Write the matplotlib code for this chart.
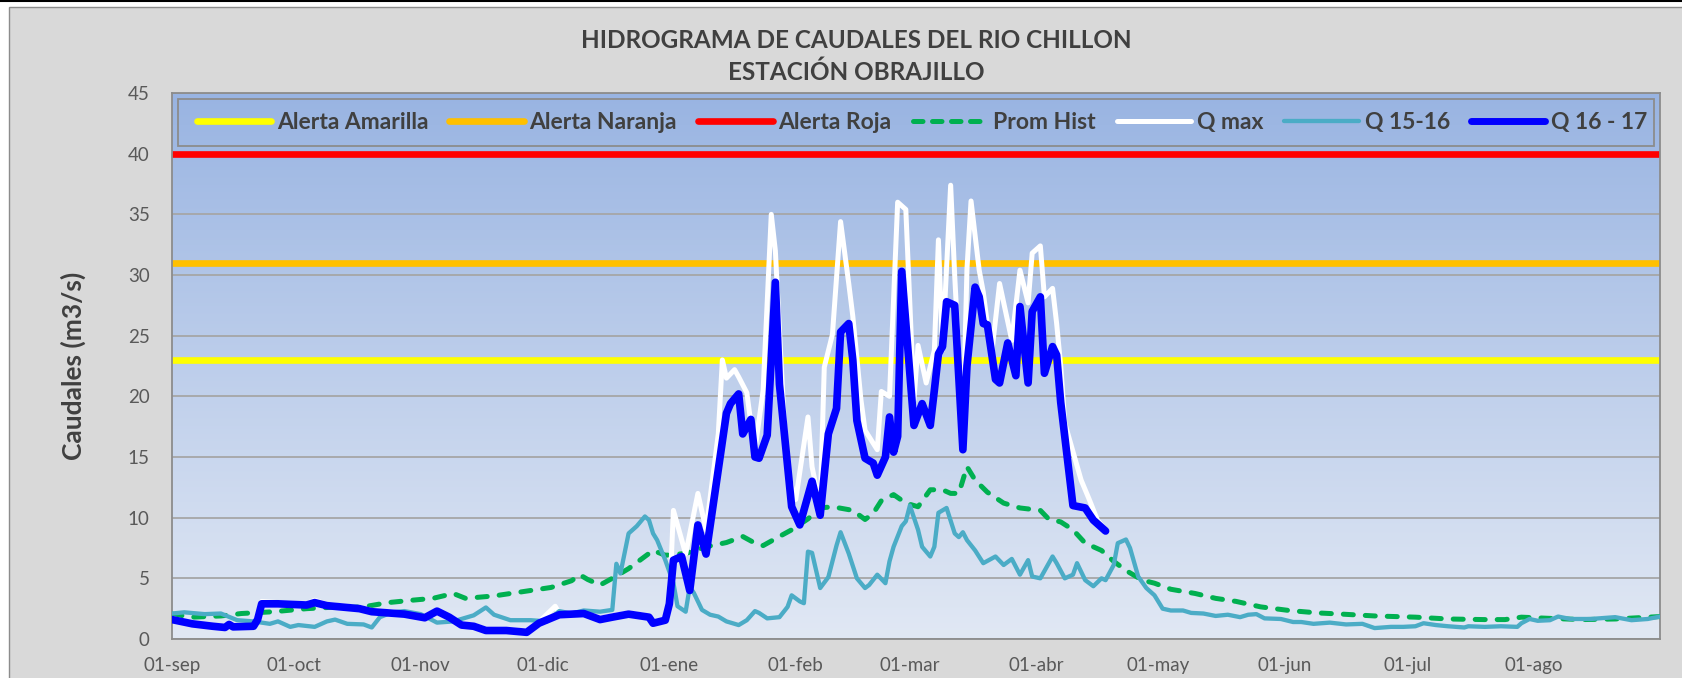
import numpy as np
import matplotlib

matplotlib.use("Agg")
import matplotlib.pyplot as plt
from matplotlib.colors import LinearSegmentedColormap
from matplotlib.lines import Line2D
from matplotlib.patches import Rectangle

plt.rcParams["font.family"] = ["Lato", "DejaVu Sans"]

# --- datos (dia desde 01-sep, caudal m3/s) ---
meses = ["01-sep", "01-oct", "01-nov", "01-dic", "01-ene", "01-feb",
         "01-mar", "01-abr", "01-may", "01-jun", "01-jul", "01-ago"]
meses_dia = [0, 30, 61, 91, 122, 153, 181, 212, 242, 273, 303, 334]

alerta_amarilla = 23
alerta_naranja = 31
alerta_roja = 40

prom_dia = [0, 5, 12, 17, 25, 33, 41, 47, 53, 59, 64, 69, 72, 79, 83, 88, 93, 98, 100,
            102, 105, 108, 112, 116, 118, 121, 126, 131, 136, 140, 143, 145, 149, 152,
            156, 159, 162, 167, 170, 172, 174, 177, 180, 183, 186, 189, 191, 193, 195,
            197, 200, 204, 208, 213, 215, 218, 221, 224, 228, 231, 234, 238, 241, 245,
            251, 256, 261, 267, 274, 281, 287, 295, 305, 313, 322, 327, 331, 338, 346,
            354, 365]
prom_val = [2.05, 1.8, 1.9, 2.1, 2.25, 2.5, 2.65, 2.65, 3.0, 3.2, 3.35, 3.75, 3.35, 3.55,
            3.75, 4.0, 4.25, 4.8, 5.3, 4.9, 4.45, 5.0, 5.8, 6.8, 7.3, 6.9, 7.05, 7.6, 7.95,
            8.45, 7.9, 7.7, 8.45, 9.0, 9.9, 10.8, 10.9, 10.6, 9.85, 10.35, 11.4, 11.9, 11.2,
            10.9, 12.3, 12.3, 12.0, 12.0, 14.2, 13.1, 12.1, 11.2, 10.8, 10.6, 9.9, 9.65,
            9.0, 7.9, 7.3, 6.4, 5.65, 4.85, 4.6, 4.1, 3.75, 3.35, 3.1, 2.65, 2.35, 2.15,
            2.05, 1.9, 1.8, 1.65, 1.6, 1.6, 1.8, 1.7, 1.6, 1.65, 1.85]

qmax_dia = [0, 5, 10, 13, 14, 15, 20, 21, 22, 26, 33, 35, 38, 46, 49, 57, 62, 65, 68, 71,
            74, 77, 82, 87, 90, 94, 95, 101, 105, 108, 112, 117, 118, 121, 122, 123, 126,
            129, 131, 134, 135, 136, 138, 139, 141, 142, 143, 145, 147, 148, 150, 151, 153,
            156, 157, 159, 160, 162, 164, 166, 167, 169, 170, 173, 174, 176, 178, 180, 182,
            183, 185, 187, 188, 189, 191, 192, 194, 195, 196, 198, 199, 201, 203, 206, 208,
            210, 211, 213, 214, 216, 217, 218, 219, 223, 225, 227, 229]
qmax_val = [1.7, 1.3, 1.1, 1.0, 1.3, 1.05, 1.1, 1.7, 3.1, 3.0, 2.9, 3.2, 2.85, 2.6, 2.35,
            2.15, 1.85, 2.4, 1.9, 1.25, 1.15, 0.8, 0.8, 0.65, 1.4, 2.7, 2.1, 2.2, 1.7, 1.9,
            2.15, 1.9, 1.4, 1.65, 3.0, 10.6, 7.0, 12.0, 9.0, 16.9, 23.0, 21.5, 22.2, 21.6,
            20.3, 17.8, 15.6, 20.5, 35.0, 32.0, 19.0, 13.7, 11.5, 18.3, 14.2, 10.9, 22.4,
            25.1, 34.4, 29.3, 26.6, 19.7, 17.2, 15.6, 20.4, 20.0, 36.0, 35.4, 19.7, 24.2,
            21.1, 23.8, 32.9, 23.8, 37.4, 29.9, 17.0, 30.5, 36.1, 30.4, 28.6, 23.3, 29.3,
            24.6, 30.4, 27.7, 31.8, 32.4, 28.2, 28.9, 26.0, 22.5, 17.8, 13.1, 11.5, 9.8, 9.0]

q1516_dia = [0, 3, 8, 12, 16, 20, 24, 26, 29, 31, 35, 38, 40, 43, 47, 49, 51, 54, 57, 61,
             65, 69, 74, 77, 79, 83, 88, 92, 95, 98, 101, 105, 108, 109, 110, 112, 114, 116,
             117, 118, 119, 121, 123, 124, 126, 127, 128, 130, 132, 134, 136, 139, 141, 143,
             144, 146, 149, 151, 152, 154, 155, 156, 157, 159, 161, 163, 164, 166, 168, 170,
             171, 173, 175, 176, 177, 179, 180, 181, 183, 184, 186, 187, 188, 190, 192, 193,
             194, 195, 197, 199, 202, 204, 206, 208, 210, 211, 213, 216, 217, 219, 221, 222,
             224, 226, 228, 229, 231, 232, 234, 235, 237, 239, 241, 243, 245, 248, 250, 253,
             256, 259, 262, 264, 266, 268, 272, 275, 277, 280, 284, 288, 292, 295, 299, 302,
             305, 307, 310, 313, 317, 318, 322, 326, 330, 331, 333, 335, 338, 340, 343, 348,
             354, 358, 362, 365]
q1516_val = [2.1, 2.2, 2.05, 2.1, 1.55, 1.45, 1.25, 1.45, 1.0, 1.15, 1.0, 1.45, 1.6, 1.25,
             1.2, 0.95, 1.8, 2.2, 2.3, 2.05, 1.35, 1.45, 1.95, 2.6, 2.0, 1.55, 1.55, 1.45,
             2.3, 2.1, 2.35, 2.25, 2.4, 6.2, 5.4, 8.7, 9.3, 10.1, 9.8, 8.7, 8.15, 6.5, 4.6,
             2.7, 2.25, 4.3, 3.8, 2.4, 2.0, 1.85, 1.45, 1.15, 1.55, 2.3, 2.15, 1.7, 1.8, 2.65,
             3.6, 3.1, 2.95, 7.2, 7.1, 4.2, 5.1, 7.7, 8.8, 7.05, 5.0, 4.2, 4.45, 5.3, 4.6, 6.4,
             7.6, 9.3, 9.7, 11.0, 9.0, 7.6, 6.8, 7.6, 10.4, 10.8, 8.7, 8.4, 8.8, 8.15, 7.3,
             6.25, 6.8, 6.1, 6.6, 5.3, 6.5, 5.15, 5.0, 6.8, 6.25, 5.0, 5.3, 6.25, 4.85, 4.35,
             5.0, 4.85, 6.1, 7.9, 8.2, 7.5, 5.15, 4.2, 3.6, 2.5, 2.35, 2.35, 2.15, 2.1, 1.9,
             2.0, 1.8, 2.0, 2.05, 1.7, 1.65, 1.4, 1.4, 1.25, 1.35, 1.2, 1.25, 0.9, 1.0, 1.0,
             1.05, 1.3, 1.15, 1.05, 0.95, 1.05, 1.0, 1.05, 1.0, 1.3, 1.65, 1.5, 1.55, 1.85,
             1.65, 1.65, 1.8, 1.55, 1.65, 1.85]

q1617_dia = [0, 5, 10, 13, 14, 15, 20, 21, 22, 26, 33, 35, 38, 46, 49, 57, 62, 65, 68, 71,
             74, 77, 82, 87, 90, 95, 101, 105, 108, 112, 117, 118, 121, 122, 123, 125, 127,
             129, 131, 136, 137, 139, 140, 142, 143, 144, 146, 148, 149, 152, 154, 157, 159,
             161, 163, 164, 166, 167, 168, 170, 172, 173, 175, 176, 177, 178, 179, 182, 184,
             186, 187, 188, 189, 190, 192, 194, 195, 197, 198, 199, 200, 202, 203, 205, 207,
             208, 210, 211, 213, 214, 216, 217, 218, 221, 224, 226, 229]
q1617_val = [1.6, 1.25, 1.05, 0.95, 1.2, 1.0, 1.05, 1.6, 2.9, 2.9, 2.8, 3.0, 2.75, 2.5, 2.25,
             2.05, 1.75, 2.3, 1.8, 1.15, 1.05, 0.7, 0.7, 0.55, 1.3, 2.0, 2.1, 1.6, 1.8, 2.05,
             1.8, 1.3, 1.55, 2.9, 6.5, 6.8, 4.0, 9.4, 7.0, 18.6, 19.4, 20.2, 16.9, 18.1, 15.0,
             14.9, 16.8, 29.4, 21.0, 10.9, 9.4, 13.0, 10.2, 16.9, 19.0, 25.3, 26.0, 23.0, 18.0,
             14.9, 14.5, 13.5, 15.0, 18.3, 15.4, 16.7, 30.3, 17.6, 19.4, 17.6, 20.5, 23.5,
             24.1, 27.8, 27.5, 15.6, 22.5, 29.0, 28.2, 26.0, 25.9, 21.4, 21.1, 24.4, 21.7,
             27.4, 21.1, 27.0, 28.2, 21.9, 24.1, 23.4, 19.5, 11.0, 10.8, 9.8, 8.9]

W, H = 1682, 678
fig = plt.figure(figsize=(W / 100, H / 100), dpi=100, facecolor="white")

# marco del grafico (se extiende fuera de la imagen a la derecha y abajo)
fig.add_artist(Rectangle((9 / W, -0.1), 1.1, 1.1 - 7 / H, transform=fig.transFigure,
                         facecolor="#D9D9D9", edgecolor="#8C8C8C", lw=1.0, zorder=0))
fig.add_artist(Line2D([0, 1], [1 - 0.8 / H, 1 - 0.8 / H], transform=fig.transFigure,
                      color="black", lw=1.5))

ax = fig.add_axes([172 / W, 1 - 639 / H, (1660 - 172) / W, (639 - 93) / H])
ax.set_facecolor("none")

grad = LinearSegmentedColormap.from_list("fondo", ["#E1E8F4", "#99B4E2"])
ax.imshow(np.linspace(0, 1, 256).reshape(-1, 1), cmap=grad, origin="lower",
          extent=[0, 365, 0, 45], aspect="auto", zorder=0)

ax.set_xlim(0, 365)
ax.set_ylim(0, 45)
ax.set_yticks(range(0, 46, 5))
ax.yaxis.grid(True, color="#A6A6A6", lw=1.3, zorder=0.5)
ax.set_axisbelow(True)

ax.set_xticks(meses_dia)
ax.set_xticklabels(meses)
ax.tick_params(axis="both", length=0, labelsize=13.5, labelcolor="#595959")
ax.tick_params(axis="x", pad=13)
ax.tick_params(axis="y", pad=16)
for s in ax.spines.values():
    s.set_color("#8C8C8C")
    s.set_linewidth(1.3)

guiones = (2.0, 2.4)
ax.axhline(alerta_amarilla, color="#FFFF00", lw=4.8, zorder=2, label="Alerta Amarilla")
ax.axhline(alerta_naranja, color="#FFC000", lw=4.8, zorder=2, label="Alerta Naranja")
ax.axhline(alerta_roja, color="#FF0000", lw=4.8, zorder=2, label="Alerta Roja")
ax.plot(prom_dia, prom_val, color="#00B050", lw=3.6, ls=(0, guiones),
        dash_capstyle="round", zorder=3, label="Prom Hist")
ax.plot(qmax_dia, qmax_val, color="white", lw=3.6, solid_joinstyle="round", zorder=4,
        label="Q max")
ax.plot(q1516_dia, q1516_val, color="#4BACC6", lw=3.1, solid_joinstyle="round", zorder=5,
        label="Q 15-16")
ax.plot(q1617_dia, q1617_val, color="#0000FF", lw=5.5, solid_joinstyle="round",
        solid_capstyle="round", zorder=6, label="Q 16 - 17")

# recuadro de la leyenda
ax.add_patch(Rectangle((6 / 1488, (639 - 146) / 546), (1654 - 178) / 1488, 47 / 546,
                       transform=ax.transAxes, facecolor="none", edgecolor="#8C8C8C",
                       lw=1.3, zorder=9))

handles, labels = ax.get_legend_handles_labels()
leg_handles = []
for h in handles:
    lh = Line2D([], [], color=h.get_color(), lw=min(h.get_linewidth(), 5.0),
                solid_capstyle="round", dash_capstyle="round")
    if h.get_label() == "Prom Hist":
        lh.set_linestyle((0, (1.9, 1.9)))
    leg_handles.append(lh)

leg = ax.legend(leg_handles, labels, loc="center", bbox_to_anchor=(0.504, 0.946),
                ncol=7, frameon=False, borderaxespad=0, borderpad=0,
                handlelength=3.25, handletextpad=0.25, columnspacing=0.92,
                prop={"weight": "bold", "size": 16.5})
for t in leg.get_texts():
    t.set_color("#404040")
leg.set_zorder(10)

ax.set_ylabel("Caudales (m3/s)", fontsize=19, fontweight="bold", color="#404040")
ax.yaxis.set_label_coords(-0.058, 0.5)

fig.text(856 / W, 1 - 41 / H, "HIDROGRAMA DE CAUDALES DEL RIO CHILLON", ha="center",
         va="center", fontsize=17.5, fontweight="bold", color="#404040")
fig.text(856 / W, 1 - 72 / H, "ESTACIÓN OBRAJILLO", ha="center", va="center",
         fontsize=17.5, fontweight="bold", color="#404040")

fig.savefig("out.png", dpi=100, facecolor=fig.get_facecolor())
